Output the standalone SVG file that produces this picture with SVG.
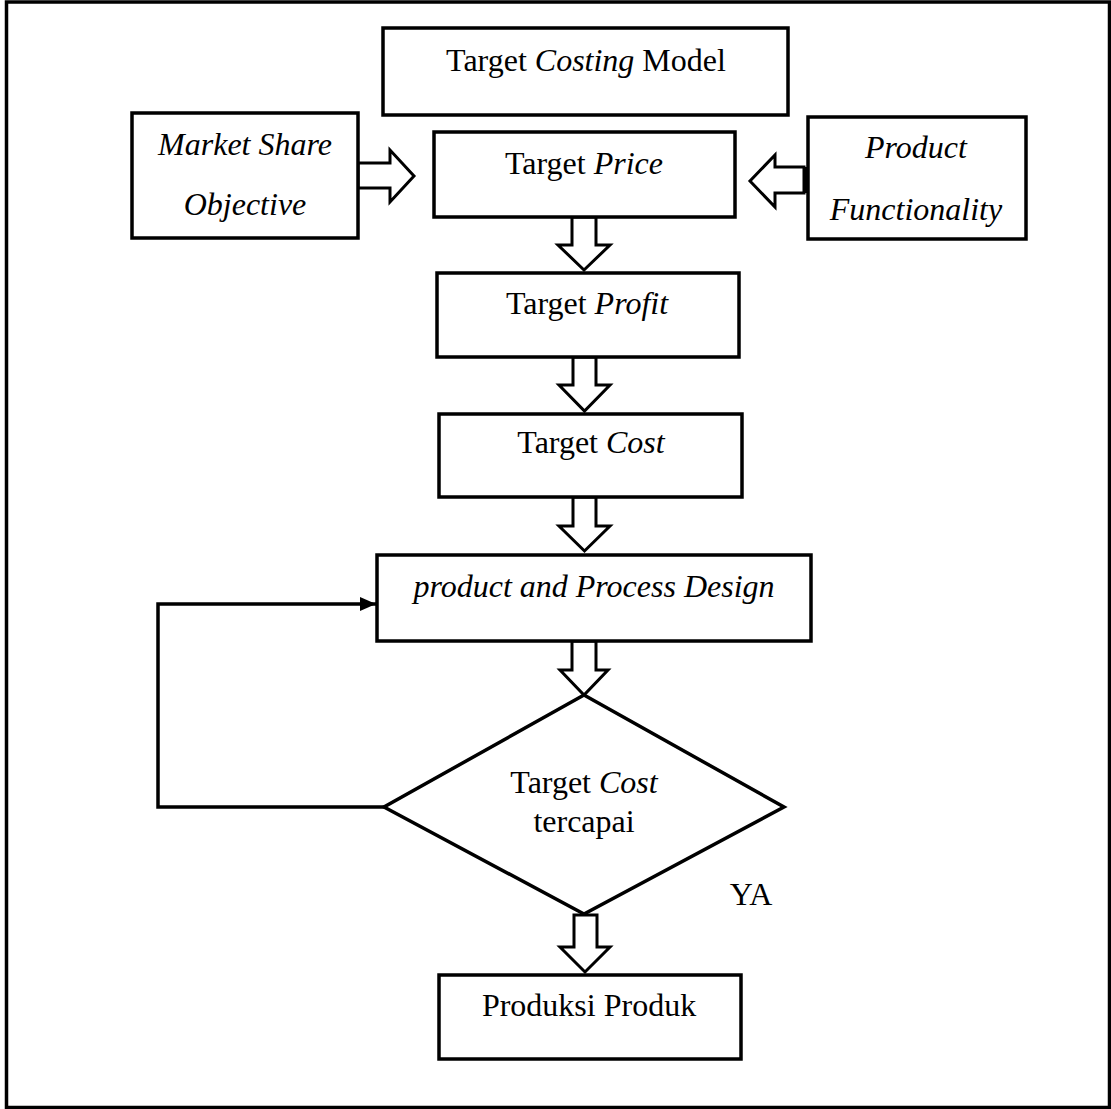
<svg xmlns="http://www.w3.org/2000/svg" width="1111" height="1109" viewBox="0 0 1111 1109">
  <defs>
    <style>
      .box { fill: #ffffff; stroke: #000000; stroke-width: 3.5; }
      .blk { fill: #ffffff; stroke: #000000; stroke-width: 3; stroke-linejoin: miter; }
      .line { fill: none; stroke: #000000; stroke-width: 3.5; }
      text { font-family: "Liberation Serif", "Times New Roman", serif; font-size: 32px; fill: #000000; text-anchor: middle; }
      .it { font-style: italic; }
    </style>
    <marker id="head" viewBox="0 0 16 14" refX="16" refY="7" markerWidth="16" markerHeight="14" markerUnits="userSpaceOnUse" orient="auto">
      <path d="M0,0 L16,7 L0,14 Z" fill="#000000"/>
    </marker>
  </defs>

  <!-- frame -->
  <rect x="6.5" y="2" width="1103" height="1105.5" fill="#ffffff" stroke="#000000" stroke-width="3.5"/>

  <!-- connectors -->
  <g id="connectors">
    <!-- Market Share Objective -> Target Price -->
    <polygon class="blk" points="358,163 390,163 390,150 414,176 390,202 390,188 358,188"/>
    <!-- Product Functionality -> Target Price -->
    <polygon class="blk" points="804,167 775,167 775,155 750,181 775,207 775,193 804,193"/>
    <rect x="803" y="167" width="5" height="26" fill="#000000"/>
    <!-- Target Price -> Target Profit -->
    <polygon class="blk" points="572,217 596,217 596,245 610,245 584,270 558,245 572,245"/>
    <!-- Target Profit -> Target Cost -->
    <polygon class="blk" points="573,357 596,357 596,385 610,385 584.5,411 559,385 573,385"/>
    <!-- Target Cost -> Design -->
    <polygon class="blk" points="573,497 596,497 596,526 610,526 584.5,551 559,526 573,526"/>
    <!-- Design -> decision -->
    <polygon class="blk" points="572,641 596,641 596,670 608,670 584,695 560,670 572,670"/>
    <!-- decision -> Produksi Produk -->
    <polygon class="blk" points="574,915 597,915 597,947 610,947 585,972 560,947 574,947"/>
    <!-- loop back when target cost not reached -->
    <polyline class="line" points="384,807 158,807 158,604 376,604" marker-end="url(#head)"/>
  </g>

  <g id="target-costing-model">
    <rect class="box" x="383" y="28" width="405" height="87"/>
    <text x="586" y="71">Target <tspan class="it">Costing</tspan> Model</text>
  </g>

  <g id="market-share-objective">
    <rect class="box" x="132" y="113" width="226" height="125"/>
    <text class="it" x="245" y="155">Market Share</text>
    <text class="it" x="245" y="215">Objective</text>
  </g>

  <g id="target-price">
    <rect class="box" x="434" y="132" width="301" height="85"/>
    <text x="584" y="174">Target <tspan class="it">Price</tspan></text>
  </g>

  <g id="product-functionality">
    <rect class="box" x="808" y="117" width="218" height="122"/>
    <text class="it" x="916" y="158">Product</text>
    <text class="it" x="916" y="220">Functionality</text>
  </g>

  <g id="target-profit">
    <rect class="box" x="437" y="273" width="302" height="84"/>
    <text x="587" y="314">Target <tspan class="it">Profit</tspan></text>
  </g>

  <g id="target-cost">
    <rect class="box" x="439" y="414" width="303" height="83"/>
    <text x="591" y="453">Target <tspan class="it">Cost</tspan></text>
  </g>

  <g id="product-process-design">
    <rect class="box" x="377" y="555" width="434" height="86"/>
    <text class="it" x="594" y="597">product and Process Design</text>
  </g>

  <g id="target-cost-reached">
    <polygon class="box" points="584,695 784,807 584,914 384,807"/>
    <text x="584" y="793">Target <tspan class="it">Cost</tspan></text>
    <text x="584" y="832">tercapai</text>
    <text x="751" y="905">YA</text>
  </g>

  <g id="produksi-produk">
    <rect class="box" x="439" y="975" width="302" height="84"/>
    <text x="589" y="1016">Produksi Produk</text>
  </g>
</svg>
